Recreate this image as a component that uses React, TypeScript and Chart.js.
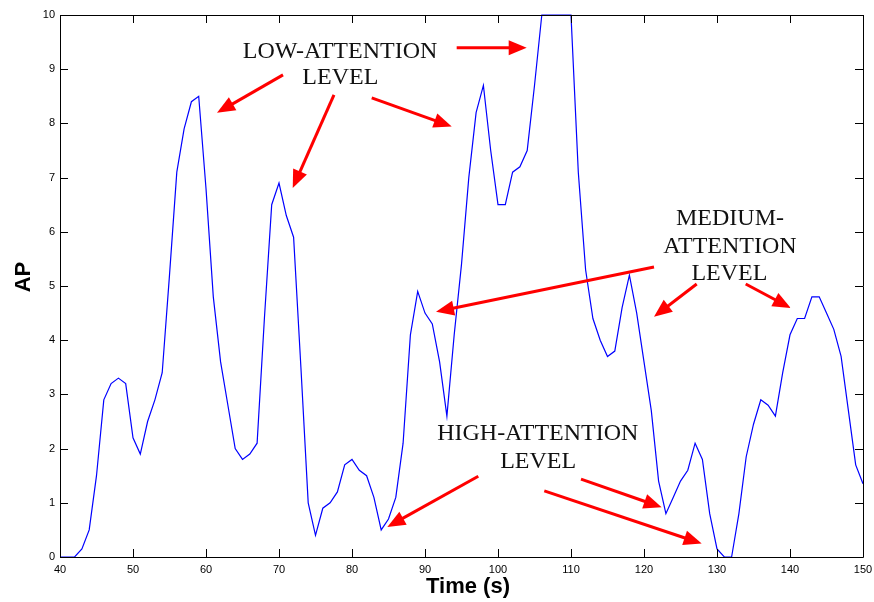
import React, { useEffect, useRef } from "react";
import { Chart, registerables } from "chart.js";

Chart.register(...registerables);

const TIME_S = [
  40, 41, 42, 43, 44, 45, 46, 47, 48, 49,
  50, 51, 52, 53, 54, 55, 56, 57, 58, 59,
  60, 61, 62, 63, 64, 65, 66, 67, 68, 69,
  70, 71, 72, 73, 74, 75, 76, 77, 78, 79,
  80, 81, 82, 83, 84, 85, 86, 87, 88, 89,
  90, 91, 92, 93, 94, 95, 96, 97, 98, 99,
  100, 101, 102, 103, 104, 105, 106, 107, 108, 109,
  110, 111, 112, 113, 114, 115, 116, 117, 118, 119,
  120, 121, 122, 123, 124, 125, 126, 127, 128, 129,
  130, 131, 132, 133, 134, 135, 136, 137, 138, 139,
  140, 141, 142, 143, 144, 145, 146, 147, 148, 149,
  150,
];

const AP_VALUES = [
  0, 0, 0, 0.15, 0.5, 1.5, 2.9, 3.2, 3.3, 3.2,
  2.2, 1.9, 2.5, 2.9, 3.4, 5.2, 7.1, 7.9, 8.4, 8.5,
  6.8, 4.8, 3.6, 2.8, 2.0, 1.8, 1.9, 2.1, 4.4, 6.5,
  6.9, 6.3, 5.9, 3.5, 1.0, 0.4, 0.9, 1.0, 1.2, 1.7,
  1.8, 1.6, 1.5, 1.1, 0.5, 0.7, 1.1, 2.1, 4.1, 4.9,
  4.5, 4.3, 3.6, 2.6, 4.1, 5.4, 7.0, 8.2, 8.7, 7.5,
  6.5, 6.5, 7.1, 7.2, 7.5, 8.7, 10, 10, 10, 10,
  10, 7.1, 5.3, 4.4, 4.0, 3.7, 3.8, 4.6, 5.2, 4.5,
  3.6, 2.7, 1.4, 0.8, 1.1, 1.4, 1.6, 2.1, 1.8, 0.8,
  0.15, 0, 0, 0.8, 1.85, 2.45, 2.9, 2.8, 2.6, 3.4,
  4.1, 4.4, 4.4, 4.8, 4.8, 4.5, 4.2, 3.7, 2.7, 1.7,
  1.35,
];

const X_TICKS = [40, 50, 60, 70, 80, 90, 100, 110, 120, 130, 140, 150];
const Y_TICKS = [0, 1, 2, 3, 4, 5, 6, 7, 8, 9, 10];

// Annotation labels: text, center time, baseline AP
const LABEL_TEXTS = ["LOW-ATTENTION", "LEVEL", "MEDIUM-", "ATTENTION", "LEVEL", "HIGH-ATTENTION", "LEVEL"];
const LABEL_X = [78.36, 78.4, 131.78, 131.78, 131.7, 105.45, 105.5];
const LABEL_Y = [9.206, 8.73, 6.127, 5.615, 5.11, 2.155, 1.633];

// Arrows: start (time, AP) -> tip (time, AP)
const ARROW_X0 = [70.55, 77.53, 82.7, 94.34, 121.37, 127.22, 133.93, 97.3, 111.37, 106.34];
const ARROW_Y0 = [8.896, 8.527, 8.472, 9.396, 5.351, 5.037, 5.037, 1.491, 1.436, 1.219];
const ARROW_X1 = [61.51, 71.88, 93.66, 103.93, 91.51, 121.37, 140.1, 84.84, 122.42, 127.9];
const ARROW_Y1 = [8.195, 6.809, 7.942, 9.396, 4.525, 4.433, 4.594, 0.554, 0.918, 0.247];

const X_TITLE = "Time (s)";
const Y_TITLE = "AP";

const decorPlugin = {
  id: "decor",
  afterDraw(chart: any) {
    const { ctx, chartArea, scales } = chart;
    const xs = scales.x;
    const ys = scales.y;
    const { left, right, top, bottom } = chartArea;
    ctx.save();
    // box
    ctx.strokeStyle = "#000";
    ctx.lineWidth = 1;
    ctx.beginPath();
    ctx.rect(Math.round(left) + 0.5, Math.round(top) + 0.5, Math.round(right - left), Math.round(bottom - top));
    ctx.stroke();
    // inward ticks
    const tl = 8;
    ctx.beginPath();
    X_TICKS.forEach((v) => {
      const px = Math.round(xs.getPixelForValue(v)) + 0.5;
      ctx.moveTo(px, bottom);
      ctx.lineTo(px, bottom - tl);
      ctx.moveTo(px, top);
      ctx.lineTo(px, top + tl);
    });
    Y_TICKS.forEach((v) => {
      const py = Math.round(ys.getPixelForValue(v)) + 0.5;
      ctx.moveTo(left, py);
      ctx.lineTo(left + tl, py);
      ctx.moveTo(right, py);
      ctx.lineTo(right - tl, py);
    });
    ctx.stroke();

    // arrows
    ctx.strokeStyle = "rgb(255,0,0)";
    ctx.fillStyle = "rgb(255,0,0)";
    ctx.lineWidth = 3;
    const headLen = 18;
    const headHalf = 7.5;
    for (let i = 0; i < ARROW_X0.length; i++) {
      const x0 = xs.getPixelForValue(ARROW_X0[i]);
      const y0 = ys.getPixelForValue(ARROW_Y0[i]);
      const x1 = xs.getPixelForValue(ARROW_X1[i]);
      const y1 = ys.getPixelForValue(ARROW_Y1[i]);
      const dx = x1 - x0;
      const dy = y1 - y0;
      const len = Math.hypot(dx, dy);
      const ux = dx / len;
      const uy = dy / len;
      const bx = x1 - ux * headLen;
      const by = y1 - uy * headLen;
      ctx.beginPath();
      ctx.moveTo(x0, y0);
      ctx.lineTo(bx + ux * 2, by + uy * 2);
      ctx.stroke();
      ctx.beginPath();
      ctx.moveTo(x1, y1);
      ctx.lineTo(bx - uy * headHalf, by + ux * headHalf);
      ctx.lineTo(bx + uy * headHalf, by - ux * headHalf);
      ctx.closePath();
      ctx.fill();
    }

    // labels
    ctx.fillStyle = "#111";
    ctx.font = '24px "Liberation Serif", "Times New Roman", serif';
    ctx.textAlign = "center";
    ctx.textBaseline = "alphabetic";
    for (let i = 0; i < LABEL_TEXTS.length; i++) {
      ctx.fillText(LABEL_TEXTS[i], xs.getPixelForValue(LABEL_X[i]), ys.getPixelForValue(LABEL_Y[i]));
    }

    // axis titles
    ctx.fillStyle = "#000";
    ctx.font = 'bold 22px "Liberation Sans", Arial, sans-serif';
    ctx.fillText(X_TITLE, 468, 593);
    ctx.translate(30, 277);
    ctx.rotate(-Math.PI / 2);
    ctx.fillText(Y_TITLE, 0, 0);
    ctx.restore();
  },
};

export default function App() {
  const canvasRef = useRef<HTMLCanvasElement | null>(null);

  useEffect(() => {
    document.body.style.margin = "0";
    const canvas = canvasRef.current;
    if (!canvas) return;
    const points = TIME_S.map((t, i) => ({ x: t, y: AP_VALUES[i] }));
    const chart = new Chart(canvas, {
      type: "line",
      data: {
        datasets: [
          {
            data: points,
            borderColor: "rgb(0,0,255)",
            borderWidth: 1.2,
            pointRadius: 0,
            tension: 0,
            fill: false,
            clip: false,
          },
        ],
      },
      options: {
        animation: false,
        responsive: false,
        maintainAspectRatio: false,
        devicePixelRatio: 1,
        layout: { padding: { left: 0, right: 11, top: 15, bottom: 0 } },
        plugins: {
          legend: { display: false },
          tooltip: { enabled: false },
          title: { display: false },
        },
        scales: {
          x: {
            type: "linear",
            min: 40,
            max: 150,
            afterFit: (s: any) => {
              s.height = 45;
              s.paddingLeft = 0;
              s.paddingRight = 0;
            },
            afterBuildTicks: (s: any) => {
              s.ticks = X_TICKS.map((v) => ({ value: v }));
            },
            grid: { display: false, drawTicks: false },
            border: { display: false },
            ticks: {
              padding: 6,
              color: "#000",
              font: { family: '"Liberation Sans", Arial, sans-serif', size: 11 },
              maxRotation: 0,
              autoSkip: false,
            },
          },
          y: {
            type: "linear",
            min: 0,
            max: 10,
            afterFit: (s: any) => {
              s.width = 60;
              s.paddingTop = 0;
              s.paddingBottom = 0;
            },
            afterBuildTicks: (s: any) => {
              s.ticks = Y_TICKS.map((v) => ({ value: v }));
            },
            grid: { display: false, drawTicks: false },
            border: { display: false },
            ticks: {
              padding: 5,
              color: "#000",
              font: { family: '"Liberation Sans", Arial, sans-serif', size: 11 },
              autoSkip: false,
            },
          },
        },
      },
      plugins: [decorPlugin],
    });
    return () => chart.destroy();
  }, []);

  return (
    <div style={{ width: 874, height: 602 }}>
      <canvas ref={canvasRef} width={874} height={602} style={{ display: "block" }} />
    </div>
  );
}
